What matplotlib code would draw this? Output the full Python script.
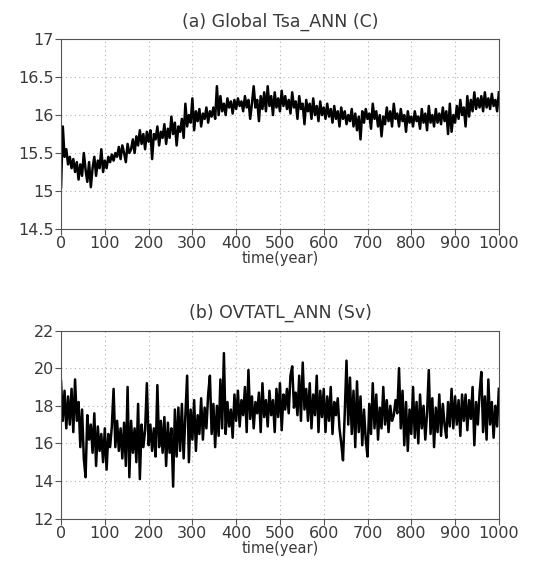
import matplotlib
matplotlib.use('Agg')
import matplotlib.pyplot as plt
import numpy as np

years = np.arange(0, 1001, 4)

tsa = [
    15.05, 15.85, 15.45, 15.55, 15.35, 15.45, 15.30, 15.42, 15.25, 15.38,
    15.15, 15.35, 15.20, 15.50, 15.28, 15.12, 15.38, 15.05, 15.30, 15.45,
    15.20, 15.40, 15.30, 15.55, 15.25, 15.40, 15.30, 15.45, 15.38, 15.48,
    15.40, 15.50, 15.45, 15.58, 15.42, 15.60, 15.50, 15.38, 15.62, 15.50,
    15.55, 15.68, 15.50, 15.72, 15.60, 15.80, 15.62, 15.75, 15.55, 15.78,
    15.65, 15.80, 15.42, 15.75, 15.68, 15.85, 15.60, 15.78, 15.70, 15.88,
    15.62, 15.82, 15.70, 15.98, 15.75, 15.90, 15.60, 15.85, 15.78, 15.95,
    15.70, 16.15, 15.85, 16.00, 15.90, 16.22, 15.80, 16.05, 15.92, 16.08,
    15.85, 16.02, 15.95, 16.10, 15.90, 16.05, 15.98, 16.10, 15.95, 16.38,
    16.00, 16.25, 16.05, 16.15, 16.00, 16.22, 16.10, 16.18, 16.02, 16.20,
    16.08, 16.22, 16.12, 16.18, 16.05, 16.25, 16.10, 16.20, 15.95, 16.15,
    16.38, 16.10, 16.20, 15.92, 16.25, 16.08, 16.30, 16.05, 16.38, 16.12,
    16.25, 16.00, 16.30, 16.10, 16.22, 16.05, 16.32, 16.12, 16.25, 16.08,
    16.20, 16.02, 16.30, 16.10, 16.18, 15.95, 16.25, 16.08, 16.15, 15.88,
    16.20, 16.05, 16.15, 15.95, 16.22, 16.00, 16.12, 15.92, 16.18, 16.00,
    16.10, 15.95, 16.15, 15.98, 16.08, 15.90, 16.12, 15.95, 16.05, 15.85,
    16.10, 15.95, 16.05, 15.88, 16.00, 15.92, 16.08, 15.85, 16.02, 15.80,
    15.98, 15.68, 16.05, 15.90, 16.08, 15.95, 16.02, 15.82, 16.15, 15.95,
    16.05, 15.85, 16.00, 15.72, 15.98, 15.88, 16.10, 15.92, 16.05, 15.85,
    16.15, 15.95, 16.02, 15.85, 16.08, 15.92, 16.00, 15.78, 16.05, 15.90,
    15.98, 15.85, 16.05, 15.92, 15.98, 15.82, 16.08, 15.90, 16.02, 15.80,
    16.12, 15.90, 16.00, 15.85, 16.08, 15.90, 16.02, 15.88, 16.10, 15.92,
    16.05, 15.75, 16.15, 15.78, 16.00, 15.90, 16.12, 15.95, 16.20, 16.00,
    16.10, 15.85, 16.25, 15.98, 16.20, 16.05, 16.30, 16.08, 16.22, 16.10,
    16.25, 16.05, 16.30, 16.10, 16.22, 16.08, 16.28, 16.12, 16.20, 16.05,
    16.30,
]

ovt = [
    19.3, 17.2, 18.8, 16.8, 18.5, 17.0, 18.9, 16.6, 19.4, 17.2,
    18.2, 15.8, 17.8, 15.2, 14.2, 17.5, 16.2, 17.0, 15.5, 17.6,
    14.8, 16.9, 15.6, 16.5, 15.0, 16.8, 14.6, 16.5, 15.8, 16.9,
    18.9, 15.8, 17.2, 15.6, 16.8, 15.2, 17.1, 14.8, 19.0, 14.2,
    17.2, 15.5, 16.8, 15.0, 18.1, 14.1, 17.0, 15.8, 16.7, 19.2,
    15.9, 17.0, 15.6, 16.8, 15.3, 19.1, 15.8, 17.2, 15.5, 17.4,
    14.8, 17.1, 15.5, 16.8, 13.7, 17.8, 15.3, 17.9, 15.6, 18.1,
    15.2, 17.5, 19.6, 15.0, 17.8, 16.2, 18.3, 15.6, 17.5, 16.5,
    18.4, 16.2, 17.9, 16.8, 18.6, 19.6, 16.5, 18.1, 15.8, 18.0,
    16.4, 19.4, 16.8, 20.8, 16.5, 18.2, 16.9, 17.8, 16.3, 18.6,
    17.2, 18.8, 16.9, 18.3, 17.5, 19.0, 16.6, 19.9, 17.3, 18.5,
    16.8, 18.2, 17.6, 18.7, 16.6, 19.2, 17.4, 18.3, 16.9, 18.8,
    17.5, 18.3, 16.6, 18.9, 17.4, 19.2, 16.7, 18.6, 17.8, 18.9,
    17.6, 19.6, 20.1, 17.9, 18.7, 17.5, 19.6, 17.2, 20.3, 17.8,
    18.9, 17.2, 19.2, 16.8, 18.6, 17.5, 19.6, 16.6, 18.8, 17.4,
    18.9, 16.6, 18.5, 17.2, 19.0, 16.5, 18.2, 17.5, 18.4, 16.8,
    16.0, 15.1, 17.6, 20.4, 17.0, 19.5, 16.5, 18.8, 15.8, 19.3,
    16.6, 18.5, 15.9, 17.8, 16.2, 15.3, 18.1, 16.5, 19.2, 16.8,
    18.6, 16.2, 17.9, 16.8, 19.0, 17.0, 18.3, 16.6, 18.0, 17.2,
    17.5, 18.3, 17.6, 20.0, 16.8, 18.8, 15.9, 18.2, 15.6, 17.8,
    16.5, 19.0, 16.3, 18.2, 16.0, 18.6, 16.8, 18.0, 16.2, 17.6,
    19.9, 16.5, 18.4, 15.8, 17.9, 16.6, 18.6, 16.4, 18.1, 17.0,
    16.3, 18.2, 16.9, 18.9, 16.8, 18.5, 17.0, 18.3, 16.4, 18.6,
    17.2, 18.6, 16.7, 18.3, 17.3, 19.0, 15.9, 18.2, 17.0, 18.7,
    19.8, 16.6, 18.5, 16.2, 19.4, 17.0, 18.2, 16.3, 18.0, 16.9,
    18.9,
]

xticks = list(range(0, 1001, 100))
tsa_ticks = [14.5, 15, 15.5, 16, 16.5, 17]
ovt_ticks = [12, 14, 16, 18, 20, 22]

TXT = '#3a3a3a'

fig = plt.figure(figsize=(5.5, 5.68), dpi=100)
ax1 = fig.add_axes([0.111, 0.597, 0.796, 0.334])
ax2 = fig.add_axes([0.111, 0.087, 0.796, 0.331])

panels = [
    (ax1, tsa, tsa_ticks, '(a) Global Tsa_ANN (C)'),
    (ax2, ovt, ovt_ticks, '(b) OVTATL_ANN (Sv)'),
]

for ax, vals, yt, title in panels:
    ax.plot(years, vals, color='black', linewidth=1.8)
    ax.set_xlim(0, 1000)
    ax.set_ylim(yt[0], yt[-1])
    ax.set_xticks(xticks)
    ax.set_yticks(yt)
    ax.set_yticklabels(['%g' % v for v in yt])
    ax.grid(True, color='#b0b0b0', linestyle=(0, (1, 3)), linewidth=0.8)
    ax.tick_params(direction='out', length=4, width=0.8, colors='#555555',
                   labelcolor=TXT, labelsize=11.5, pad=1)
    for s in ax.spines.values():
        s.set_color('#555555')
        s.set_linewidth(0.8)
    ax.set_title(title, fontsize=12.5, color=TXT, pad=9)
    ax.set_xlabel('time(year)', fontsize=10.5, color=TXT, labelpad=0)

plt.savefig('out.png', dpi=100, facecolor='white')
